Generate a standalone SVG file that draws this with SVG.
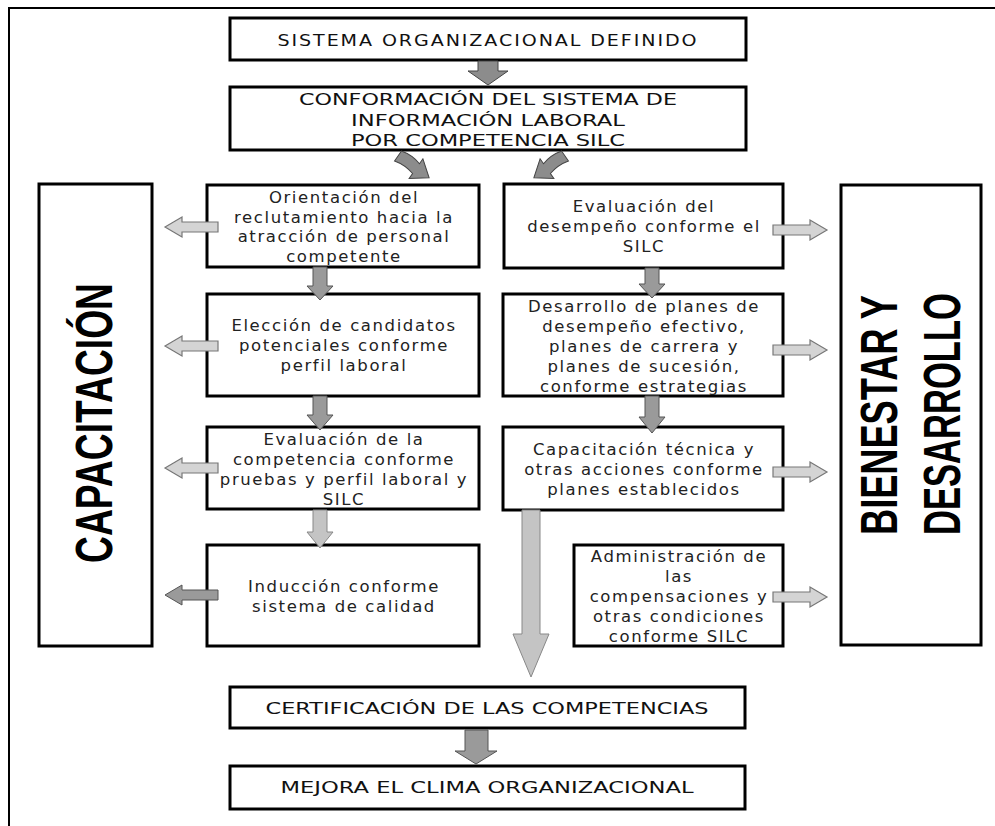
<svg xmlns="http://www.w3.org/2000/svg" width="995" height="826" viewBox="0 0 995 826">
<style>
.box{fill:#fff;stroke:#000;stroke-width:3}
.t{font-family:"DejaVu Sans","Liberation Sans",sans-serif;font-size:16.5px;letter-spacing:1.6px;fill:#222;text-anchor:middle}
.u{font-family:"DejaVu Sans","Liberation Sans",sans-serif;font-size:15px;fill:#111;text-anchor:middle}
.big{font-family:"Liberation Sans",Arial,sans-serif;font-weight:bold;font-size:52px;fill:#000;text-anchor:middle}
.ad{fill:#9a9a9a;stroke:#555;stroke-width:1}
.ac{fill:#8c8c8c;stroke:#444;stroke-width:1}
.as{fill:#d4d4d4;stroke:#777;stroke-width:1.2}
.al{fill:#c4c4c4;stroke:#888;stroke-width:1}
</style>
<defs>
<path id="arrL" d="M0,0 L17,-10 L17,-5 L53,-5 L53,5 L17,5 L17,10 Z"/>
<path id="arrR" d="M0,0 L-17,-10 L-17,-5 L-54,-5 L-54,5 L-17,5 L-17,10 Z"/>
<path id="arrC" d="M0,-6 Q11,-9 22,-6 L22,-12 L38,0 L22,12 L22,6 Q11,3 0,6 Z"/>
</defs>
<rect width="995" height="826" fill="#fff"/>
<g id="frame" fill="none" stroke="#000" stroke-width="2">
<path d="M9,826 L9,8 L995,8"/>
</g>

<g id="n-sistema">
<rect class="box" x="230" y="18" width="516" height="42"/>
<text class="u" x="488" y="46" textLength="421" lengthAdjust="spacingAndGlyphs" letter-spacing="1.5">SISTEMA ORGANIZACIONAL DEFINIDO</text>
</g>
<g id="n-conformacion">
<rect class="box" x="230" y="87" width="516" height="63"/>
<text class="u" x="488" y="105" textLength="378" lengthAdjust="spacingAndGlyphs">CONFORMACIÓN DEL SISTEMA DE</text>
<text class="u" x="488" y="126" textLength="274" lengthAdjust="spacingAndGlyphs">INFORMACIÓN LABORAL</text>
<text class="u" x="488" y="146" textLength="274" lengthAdjust="spacingAndGlyphs">POR COMPETENCIA SILC</text>
</g>

<g id="n-capacitacion">
<rect class="box" x="39" y="184" width="113" height="462"/>
<text class="big" transform="translate(112,423) rotate(-90)" textLength="280" lengthAdjust="spacingAndGlyphs">CAPACITACIÓN</text>
</g>
<g id="n-bienestar">
<rect class="box" x="841" y="185" width="140" height="460"/>
<text class="big" transform="translate(897,415) rotate(-90)" textLength="240" lengthAdjust="spacingAndGlyphs">BIENESTAR Y</text>
<text class="big" transform="translate(960,414) rotate(-90)" textLength="242" lengthAdjust="spacingAndGlyphs">DESARROLLO</text>
</g>

<g id="n-l1">
<rect class="box" x="207" y="185" width="272" height="82"/>
<text class="t" x="344" y="203">Orientación del</text>
<text class="t" x="344" y="223">reclutamiento hacia la</text>
<text class="t" x="344" y="242">atracción de personal</text>
<text class="t" x="344" y="262">competente</text>
</g>
<g id="n-l2">
<rect class="box" x="207" y="294" width="272" height="102"/>
<text class="t" x="344" y="331">Elección de candidatos</text>
<text class="t" x="344" y="351">potenciales conforme</text>
<text class="t" x="344" y="371">perfil laboral</text>
</g>
<g id="n-l3">
<rect class="box" x="207" y="427" width="272" height="82"/>
<text class="t" x="344" y="445">Evaluación de la</text>
<text class="t" x="344" y="465">competencia conforme</text>
<text class="t" x="344" y="485">pruebas y perfil laboral y</text>
<text class="t" x="344" y="505">SILC</text>
</g>
<g id="n-l4">
<rect class="box" x="207" y="545" width="272" height="101"/>
<text class="t" x="344" y="592">Inducción conforme</text>
<text class="t" x="344" y="612">sistema de calidad</text>
</g>

<g id="n-r1">
<rect class="box" x="504" y="184" width="279" height="84"/>
<text class="t" x="644" y="212">Evaluación del</text>
<text class="t" x="644" y="232">desempeño conforme el</text>
<text class="t" x="644" y="252">SILC</text>
</g>
<g id="n-r2">
<rect class="box" x="503" y="294" width="280" height="102"/>
<text class="t" x="644" y="312">Desarrollo de planes de</text>
<text class="t" x="644" y="332">desempeño efectivo,</text>
<text class="t" x="644" y="352">planes de carrera y</text>
<text class="t" x="644" y="372">planes de sucesión,</text>
<text class="t" x="644" y="392">conforme estrategias</text>
</g>
<g id="n-r3">
<rect class="box" x="503" y="427" width="280" height="83"/>
<text class="t" x="644" y="455">Capacitación técnica y</text>
<text class="t" x="644" y="475">otras acciones conforme</text>
<text class="t" x="644" y="495">planes establecidos</text>
</g>
<g id="n-r4">
<rect class="box" x="574" y="545" width="209" height="101"/>
<text class="t" x="679" y="562">Administración de</text>
<text class="t" x="679" y="582">las</text>
<text class="t" x="679" y="602">compensaciones y</text>
<text class="t" x="679" y="622">otras condiciones</text>
<text class="t" x="679" y="642">conforme SILC</text>
</g>

<g id="n-cert">
<rect class="box" x="230" y="687" width="515" height="41"/>
<text class="u" x="487" y="714" textLength="443" lengthAdjust="spacingAndGlyphs">CERTIFICACIÓN DE LAS COMPETENCIAS</text>
</g>
<g id="n-mejora">
<rect class="box" x="230" y="766" width="515" height="43"/>
<text class="u" x="487" y="793" textLength="413" lengthAdjust="spacingAndGlyphs">MEJORA EL CLIMA ORGANIZACIONAL</text>
</g>

<g id="connectors">
<path class="ac" d="M478,61 L498,61 L498,71 L508,71 L488,85 L468,71 L478,71 Z"/>
<use href="#arrC" class="ac" transform="translate(398,156) rotate(35)"/>
<use href="#arrC" class="ac" transform="translate(565,156) rotate(145) scale(1,-1)"/>

<path class="ad" d="M313,267 L327,267 L327,286 L333,286 L320,300 L307,286 L313,286 Z"/>
<path class="ad" d="M313,396 L327,396 L327,415 L333,415 L320,430 L307,415 L313,415 Z"/>
<path class="al" d="M313,510 L327,510 L327,532 L333,532 L320,548 L307,532 L313,532 Z"/>
<path class="ad" d="M645,268 L659,268 L659,284 L665,284 L652,298 L639,284 L645,284 Z"/>
<path class="ad" d="M645,396 L659,396 L659,417 L665,417 L652,433 L639,417 L645,417 Z"/>
<path class="al" d="M522,510 L540,510 L540,634 L549,634 L531,677 L513,634 L522,634 Z"/>
<path class="ad" d="M465,730 L488,730 L488,751 L497,751 L476,764 L455,751 L465,751 Z"/>

<use href="#arrL" class="as" x="165" y="227"/>
<use href="#arrL" class="as" x="165" y="346"/>
<use href="#arrL" class="as" x="165" y="468"/>
<use href="#arrL" class="ad" x="165" y="595"/>

<use href="#arrR" class="as" x="827" y="230"/>
<use href="#arrR" class="as" x="827" y="350"/>
<use href="#arrR" class="as" x="827" y="472"/>
<use href="#arrR" class="as" x="827" y="597"/>
</g>
</svg>
